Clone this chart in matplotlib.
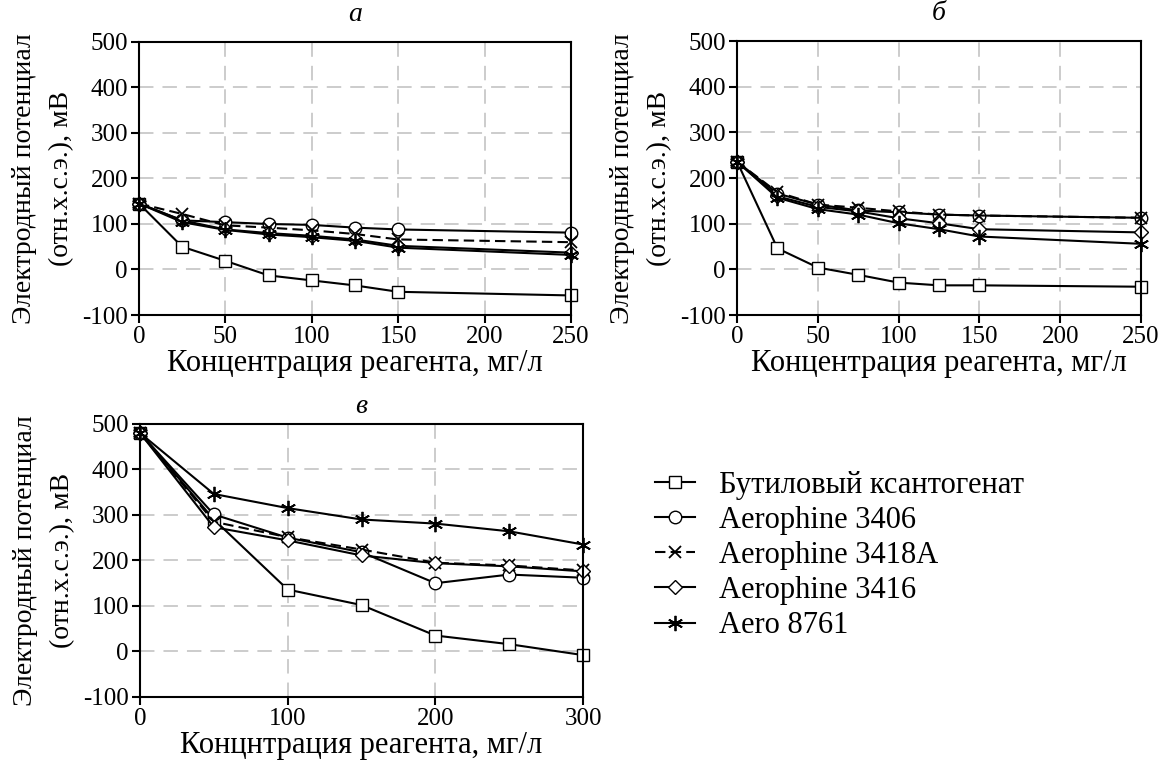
import matplotlib.pyplot as plt
import numpy as np

plt.rcParams['font.family'] = ['Liberation Serif', 'DejaVu Serif']
plt.rcParams['axes.unicode_minus'] = False

# подписи серий
names = ["Бутиловый ксантогенат", "Aerophine 3406", "Aerophine 3418A",
         "Aerophine 3416", "Aero 8761"]

# панель а
x_a = [0, 25, 50, 75, 100, 125, 150, 250]
a_bx = [145, 50, 19, -13, -24, -35, -49, -57]
a_3406 = [145, 108, 104, 100, 98, 92, 88, 81]
a_3418 = [145, 122, 97, 92, 86, 78, 66, 60]
a_3416 = [145, 108, 88, 80, 74, 66, 52, 37]
a_8761 = [145, 104, 87, 77, 71, 63, 48, 32]

# панель б
x_b = [0, 25, 50, 75, 100, 125, 150, 250]
b_bx = [236, 46, 4, -12, -29, -35, -35, -38]
b_3406 = [236, 166, 142, 129, 125, 120, 118, 113]
b_3418 = [236, 169, 142, 135, 127, 120, 118, 113]
b_3416 = [236, 160, 137, 127, 112, 101, 88, 81]
b_8761 = [236, 157, 132, 120, 101, 88, 72, 56]

# панель в
x_c = [0, 50, 100, 150, 200, 250, 300]
c_bx = [480, 290, 136, 102, 35, 16, -8]
c_3406 = [480, 301, 250, 218, 150, 169, 162]
c_3418 = [480, 285, 251, 224, 195, 189, 178]
c_3416 = [480, 273, 244, 211, 194, 187, 176]
c_8761 = [480, 346, 315, 290, 281, 264, 235]

styles = [
    dict(marker='s', ms=8.5, ls='-'),
    dict(marker='o', ms=9, ls='-'),
    dict(marker='x', ms=8.5, ls=(0, (5, 2.5)), mew=1.3),
    dict(marker='D', ms=7, ls='-'),
    dict(marker=(6, 2, 0), ms=11, ls='-', mew=1.3),
]

fig = plt.figure(figsize=(11.69, 7.67), dpi=100)

ax_a = fig.add_axes([0.1189, 0.5893, 0.3695, 0.356])
ax_b = fig.add_axes([0.6305, 0.5893, 0.3456, 0.357])
ax_c = fig.add_axes([0.1198, 0.0913, 0.379, 0.356])

panels = [
    (ax_a, x_a, [a_bx, a_3406, a_3418, a_3416, a_8761], "а", 250, "Концентрация реагента, мг/л", 15),
    (ax_b, x_b, [b_bx, b_3406, b_3418, b_3416, b_8761], "б", 250, "Концентрация реагента, мг/л", 15),
    (ax_c, x_c, [c_bx, c_3406, c_3418, c_3416, c_8761], "в", 300, "Концнтрация реагента, мг/л", 8),
]

for ax, xs, series, title, xmax, xlabel, tpad in panels:
    for ys, name, st in zip(series, names, styles):
        ax.plot(xs, ys, color='black', lw=1.5, mfc='white', mec='black',
                label=name, clip_on=False, **st)
    ax.set_xlim(0, xmax)
    ax.set_ylim(-100, 500)
    ax.set_yticks(np.arange(-100, 501, 100))
    ax.set_xticks(np.arange(0, xmax + 1, 50 if xmax == 250 else 100))
    ax.grid(True, color='#c8c8c8', ls=(0, (8, 5)), lw=1.3)
    ax.set_axisbelow(True)
    for sp in ax.spines.values():
        sp.set_linewidth(1.5)
    ax.tick_params(axis='both', direction='out', length=6, width=1.5,
                   labelsize=18, pad=2)
    ax.set_xlabel(xlabel, fontsize=22, labelpad=0.5)
    ax.set_ylabel("Электродный потенциал\n(отн.х.с.э.), мВ", fontsize=20,
                  labelpad=6, linespacing=1.6)
    ax.set_title(title, fontsize=20, style='italic', pad=tpad)

handles, labels = ax_c.get_legend_handles_labels()
fig.legend(handles, labels, loc='upper left', bbox_to_anchor=(0.537, 0.422),
           frameon=False, fontsize=22, handlelength=1.3, handletextpad=0.8,
           labelspacing=0.2)

fig.savefig("out.png", dpi=100)
